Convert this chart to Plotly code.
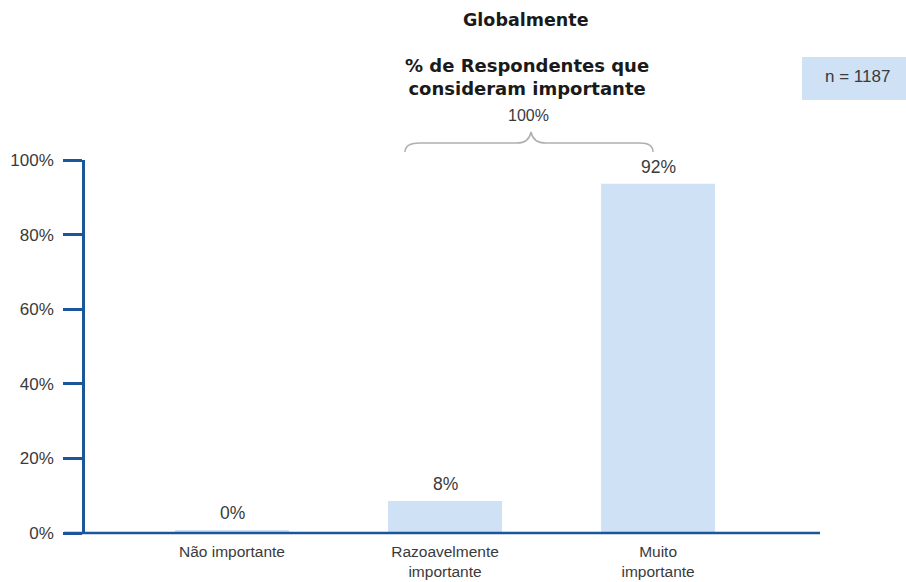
import plotly.graph_objects as go

categories = ["Não importante", "Razoavelmente<br>importante", "Muito<br>importante"]
bar_values = [0.8, 8.6, 93.6]
bar_labels = ["0%", "8%", "92%"]
y_ticks = [0, 20, 40, 60, 80, 100]
y_tick_labels = ["0%", "20%", "40%", "60%", "80%", "100%"]

AXIS = "#1b569b"
BAR = "#cfe1f5"
TXT = "#3a3a3a"
FONT = "Liberation Sans, Arial, sans-serif"
BOLD = "DejaVu Sans, Liberation Sans, sans-serif"

fig = go.Figure()
fig.add_trace(go.Bar(
    x=categories, y=bar_values, width=0.535,
    marker=dict(color=BAR, line=dict(width=0)),
    hoverinfo="skip",
))

for c, v, t in zip(categories, bar_values, bar_labels):
    fig.add_annotation(x=c, y=v, text=t, showarrow=False, yanchor="bottom", xanchor="center",
                       yshift=5, font=dict(size=17.5, color=TXT, family=FONT))

W0, W1 = 85, 820
T0, B0 = 160, 533
def px(x):
    return (x - W0) / (W1 - W0)
def py(y):
    return (B0 - y) / (B0 - T0)

# x-axis baseline extending left of y axis
fig.add_shape(type="line", xref="paper", yref="paper", x0=px(64), x1=px(820), y0=0, y1=0,
              line=dict(color=AXIS, width=2.5))

# brace
path = (f"M {px(405)},{py(152)} Q {px(405)},{py(143)} {px(420)},{py(143)} "
        f"L {px(517)},{py(143)} Q {px(529)},{py(143)} {px(531)},{py(132)} "
        f"Q {px(533)},{py(143)} {px(546)},{py(143)} L {px(640)},{py(143)} "
        f"Q {px(653)},{py(143)} {px(653)},{py(152)}")
fig.add_shape(type="path", xref="paper", yref="paper", path=path,
              line=dict(color="#b0b0b0", width=1.5))

# n box
fig.add_shape(type="rect", xref="paper", yref="paper", x0=px(802), x1=px(906), y0=py(100), y1=py(57),
              fillcolor=BAR, line=dict(width=0))

def note(x, y, text, size, family, color):
    fig.add_annotation(xref="paper", yref="paper", x=px(x), y=py(y), text=text, showarrow=False,
                       xanchor="center", yanchor="middle",
                       font=dict(size=size, color=color, family=family))

note(857, 76, "n = 1187", 17, FONT, TXT)
note(526, 20, "<b>Globalmente</b>", 17.5, BOLD, "#1a1a1a")
note(527, 77, "<b>% de Respondentes que<br>consideram importante</b>", 18, BOLD, "#1a1a1a")
note(528, 116, "100%", 16, FONT, TXT)

fig.update_layout(
    width=906, height=582,
    margin=dict(l=W0, r=906 - W1, t=T0, b=582 - B0, pad=0, autoexpand=False),
    plot_bgcolor="white", paper_bgcolor="white",
    showlegend=False,
    xaxis=dict(range=[-0.69, 2.76], showgrid=False, showline=False, ticks="", zeroline=False,
               automargin=False, ticklabelstandoff=7,
               tickfont=dict(size=15.5, color=TXT, family=FONT)),
    yaxis=dict(range=[0, 100], tickvals=y_ticks, ticktext=y_tick_labels, showgrid=False,
               showline=True, linecolor=AXIS, linewidth=2.5, ticks="outside", ticklen=19,
               tickcolor=AXIS, tickwidth=2.5, zeroline=False, automargin=False,
               ticklabelstandoff=6,
               tickfont=dict(size=17, color=TXT, family=FONT)),
)

fig.write_html("out.html", config={"displayModeBar": False},
               post_script="document.body.style.margin='0';")
